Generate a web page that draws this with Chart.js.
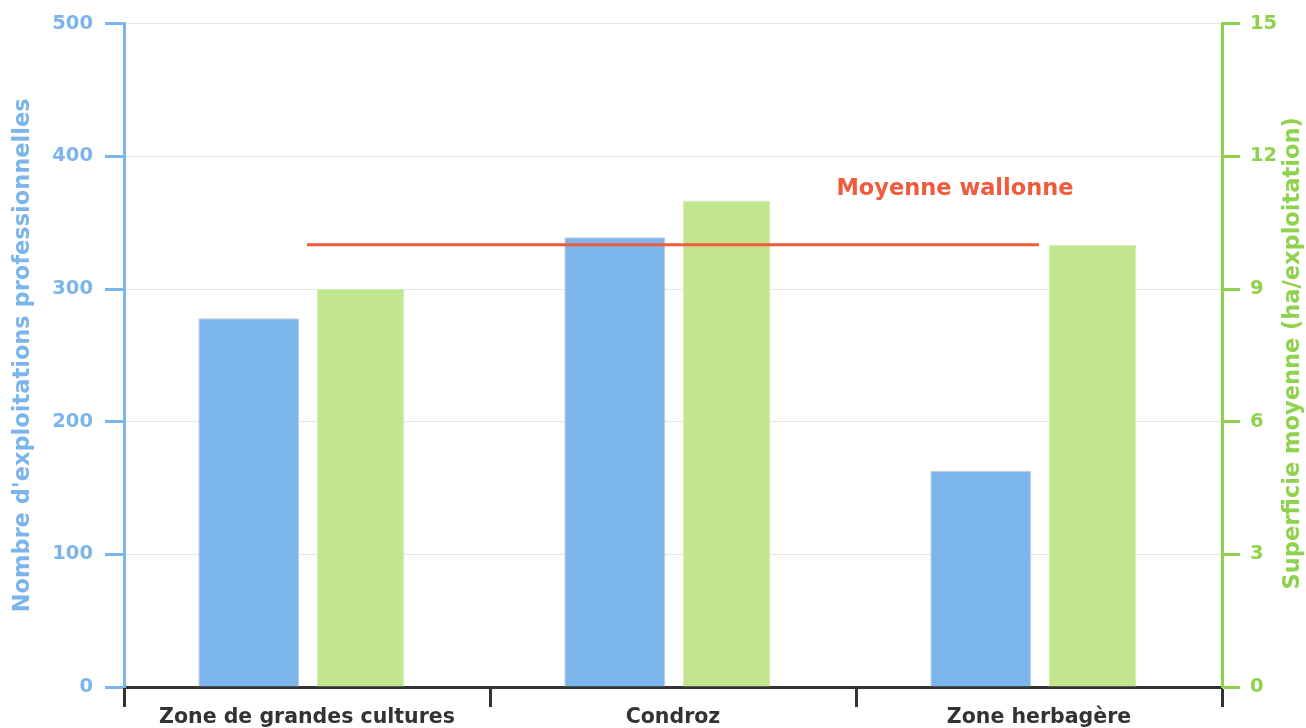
<!DOCTYPE html>
<html>
<head>
<meta charset="utf-8">
<script src="https://cdn.jsdelivr.net/npm/chart.js@4.4.1/dist/chart.umd.min.js"></script>
<style>
  body { margin: 0; background: #fff; }
  #wrap { width: 1306px; height: 728px; }
</style>
</head>
<body>
<div id="wrap"><canvas id="chart"></canvas></div>
<script>
var zones = ["Zone de grandes cultures", "Condroz", "Zone herbagère"];
var nbExploitations = [278, 339, 163];
var superficie = [9.0, 11.0, 10.0];
var moyenneWallonne = [10, 10, 10];

var blue = '#7cb5ec';
var green = '#8fd24c';
var red = '#f15a3a';
var fam = '"DejaVu Sans", Verdana, sans-serif';

var textPlugin = {
    id: 'texts',
    afterDatasetsDraw: function(chart) {
        var c = chart.ctx;
        var x = chart.scales.x, y2 = chart.scales.y2;
        c.save();
        // label of the average line
        c.font = 'bold 22.5px ' + fam;
        c.fillStyle = red;
        c.textAlign = 'center';
        c.textBaseline = 'alphabetic';
        c.fillText('Moyenne wallonne', x.getPixelForValue(2) - 84, y2.getPixelForValue(moyenneWallonne[2]) - 50);
        // right axis title, reading bottom to top
        c.translate(1293, (chart.chartArea.top + chart.chartArea.bottom) / 2 - 2);
        c.rotate(-Math.PI / 2);
        c.fillStyle = green;
        c.textBaseline = 'middle';
        c.fillText('Superficie moyenne (ha/exploitation)', 0, 0);
        c.restore();
    }
};

var ctx = document.getElementById("chart");
var myChart = new Chart(ctx, {
    type: 'bar',
    data: {
        labels: zones,
        datasets: [{
            type: 'line',
            label: 'Moyenne wallonne',
            data: moyenneWallonne,
            yAxisID: 'y2',
            borderColor: red,
            borderWidth: 3,
            pointRadius: 0,
            fill: false,
            order: 0
        }, {
            label: "Nombre d'exploitations professionnelles",
            data: nbExploitations,
            yAxisID: 'y',
            backgroundColor: blue,
            borderColor: '#cccccc',
            borderWidth: 1,
            categoryPercentage: 0.636,
            barPercentage: 0.868,
            order: 1
        }, {
            label: 'Superficie moyenne (ha/exploitation)',
            data: superficie,
            yAxisID: 'y2',
            backgroundColor: '#c2e690',
            borderColor: '#d4efb0',
            borderWidth: 1,
            categoryPercentage: 0.585,
            barPercentage: 0.819,
            order: 1
        }]
    },
    options: {
        responsive: true,
        maintainAspectRatio: false,
        animation: false,
        layout: { padding: { top: 22, left: 0, right: 0, bottom: 0 } },
        plugins: {
            legend: { display: false },
            tooltip: { enabled: false }
        },
        scales: {
            x: {
                offset: true,
                afterFit: function(s) { s.height = 41; },
                grid: {
                    offset: true,
                    drawOnChartArea: false,
                    tickColor: '#333333',
                    tickLength: 20,
                    tickWidth: 3
                },
                border: { color: '#333333', width: 3 },
                ticks: {
                    color: '#333333',
                    padding: -2,
                    font: { family: fam, size: 20.5, weight: 'bold' }
                }
            },
            y: {
                position: 'left',
                min: 0,
                max: 500,
                afterFit: function(s) { s.width = 124; },
                ticks: {
                    stepSize: 100,
                    color: blue,
                    padding: 12,
                    font: { family: fam, size: 19.5, weight: 'bold' }
                },
                grid: {
                    color: '#e6e6e6',
                    lineWidth: 1,
                    tickColor: blue,
                    tickLength: 19,
                    tickWidth: 3
                },
                border: { color: blue, width: 3 },
                title: {
                    display: true,
                    text: "Nombre d'exploitations professionnelles",
                    color: blue,
                    padding: { top: 10, bottom: 0 },
                    font: { family: fam, size: 22.5, weight: 'bold' }
                }
            },
            y2: {
                position: 'right',
                min: 0,
                max: 15,
                afterFit: function(s) { s.width = 84; },
                ticks: {
                    stepSize: 3,
                    color: green,
                    padding: 10,
                    font: { family: fam, size: 19.5, weight: 'bold' }
                },
                grid: {
                    drawOnChartArea: false,
                    tickColor: green,
                    tickLength: 18,
                    tickWidth: 3
                },
                border: { color: green, width: 3 }
            }
        }
    },
    plugins: [textPlugin]
});
</script>
</body>
</html>
